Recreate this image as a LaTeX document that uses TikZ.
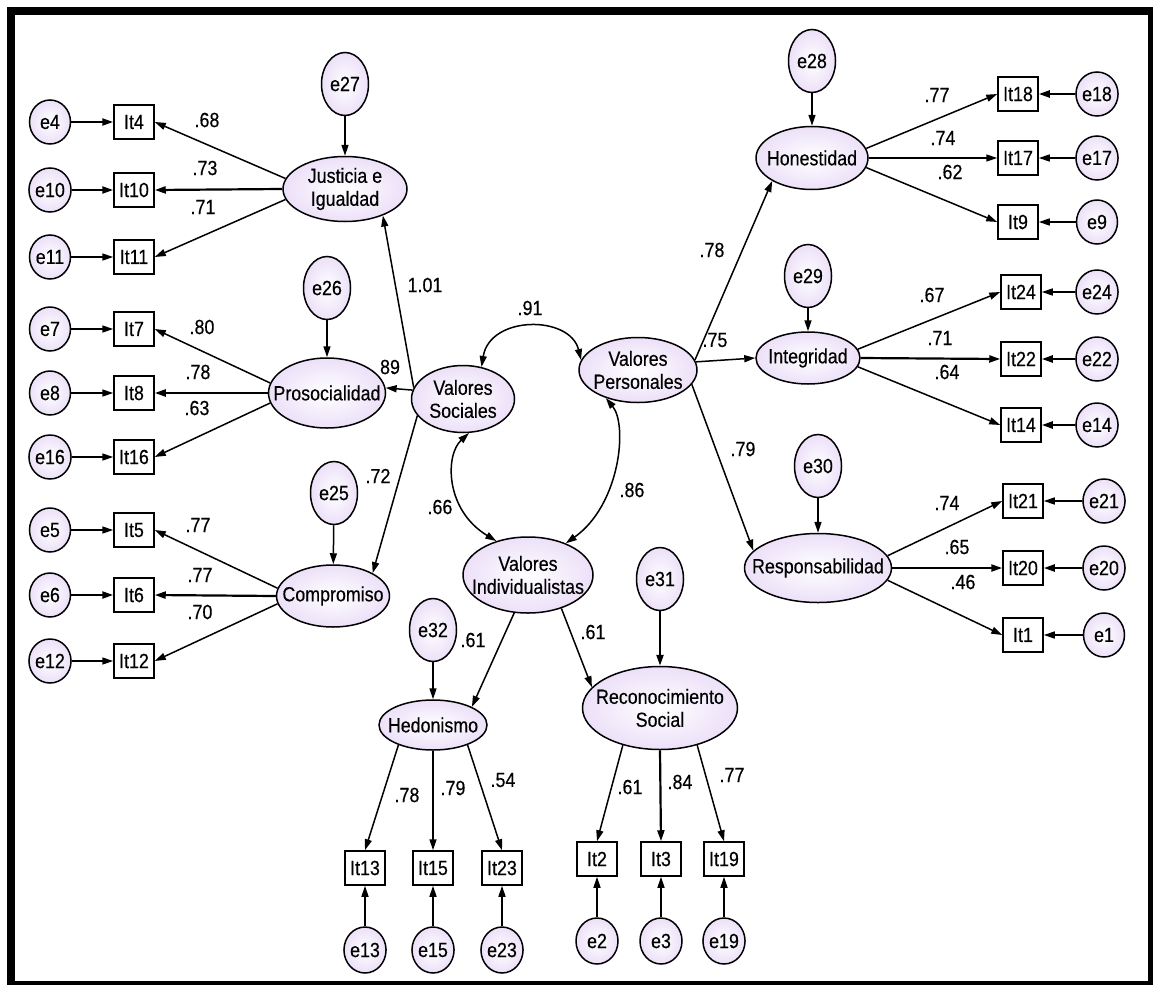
\documentclass[tikz,border=0pt]{standalone}
\usepackage{fontspec}
\setmainfont{Liberation Sans}[FakeStretch=0.87,FakeBold=0.35]
\usetikzlibrary{shapes.geometric,arrows.meta}
\definecolor{lavedge}{RGB}{236,224,248}
\begin{document}
\begin{tikzpicture}[x=1pt,y=-1pt,font=\fontsize{20.5}{23}\selectfont,
  err/.style={ellipse,draw,line width=1.5pt,inner color=white,outer color=lavedge,minimum width=41,minimum height=44,inner sep=0pt},
  res/.style={err,minimum width=47,minimum height=63},
  lat/.style={ellipse,draw,line width=1.5pt,inner color=white,outer color=lavedge,inner sep=0pt},
  item/.style={rectangle,draw,line width=1.5pt,fill=white,minimum width=40,minimum height=34,inner sep=0pt},
  ln/.style={-{Triangle[length=11pt,width=7pt]},line width=1.5pt},
  lnb/.style={ln,line width=2.2pt},
  cv/.style={{Triangle[length=11pt,width=7pt]}-{Triangle[length=11pt,width=7pt]},line width=1.5pt},
  lb/.style={inner sep=0pt}]
\useasboundingbox (0,0) rectangle (1153,985);
\fill[black] (7,7) rectangle (1153,985);
\fill[white] (15,15) rectangle (1148,981);

% ---- left block
\node[lat,minimum width=124,minimum height=65,label={[align=center]center:Justicia e\\Igualdad}] (J) at (345,189) {};
\node[res] (e27) at (345,84) {e27};
\node[lat,minimum width=117,minimum height=70,label={center:Prosocialidad}] (P) at (327,393) {};
\node[res] (e26) at (327,288) {e26};
\node[lat,minimum width=113,minimum height=62,label={center:Compromiso}] (C) at (333,596) {};
\node[res] (e25) at (334,493) {e25};

\foreach \n/\y in {4/122,10/190,11/257,7/329,8/393,16/457,5/530,6/595,12/661}{
  \node[item] (It\n) at (134,\y) {It\n};
  \node[err] (e\n) at (50,\y) {e\n};
}

% ---- centre
\node[lat,minimum width=103,minimum height=67,label={[align=center]center:Valores\\Sociales}] (VS) at (463,399) {};
\node[lat,minimum width=118,minimum height=65,label={[align=center]center:Valores\\Personales}] (VP) at (638,370) {};
\node[lat,minimum width=130,minimum height=76,label={[align=center]center:Valores\\Individualistas}] (VI) at (528,575) {};
\node[res] (e32) at (433,630) {e32};
\node[lat,minimum width=108,minimum height=50,label={center:Hedonismo}] (H) at (433,725) {};
\node[res] (e31) at (660,579) {e31};
\node[lat,minimum width=155,minimum height=83,label={[align=center]center:Reconocimiento\\Social}] (RS) at (660,708) {};

\foreach \n/\x in {13/365,15/433,23/502}{
  \node[item] (It\n) at (\x,868) {It\n};
  \node[err,minimum width=42,minimum height=46] (e\n) at (\x,950) {e\n};
}
\foreach \n/\x in {2/597,3/661,19/724}{
  \node[item] (It\n) at (\x,859) {It\n};
  \node[err,minimum width=42,minimum height=46] (e\n) at (\x,941) {e\n};
}

% ---- right block
\node[lat,minimum width=112,minimum height=63,label={center:Honestidad}] (Ho) at (812,158) {};
\node[res] (e28) at (812,61) {e28};
\node[lat,minimum width=104,minimum height=52,label={center:Integridad}] (In) at (808,358) {};
\node[res] (e29) at (808,276) {e29};
\node[lat,minimum width=147,minimum height=69,label={center:Responsabilidad}] (Re) at (818,568) {};
\node[res] (e30) at (818,466) {e30};

\foreach \n/\y in {18/94,17/158,9/222}{
  \node[item] (It\n) at (1018,\y) {It\n};
  \node[err] (e\n) at (1097,\y) {e\n};
}
\foreach \n/\y in {24/292,22/359,14/425}{
  \node[item] (It\n) at (1021,\y) {It\n};
  \node[err] (e\n) at (1097,\y) {e\n};
}
\foreach \n/\y in {21/501,20/568,1/635}{
  \node[item] (It\n) at (1023,\y) {It\n};
  \node[err] (e\n) at (1104,\y) {e\n};
}

% ---- error arrows
\draw[lnb] (e4) -- (It4);
\draw[lnb] (e10) -- (It10);
\draw[ln] (e11) -- (It11);
\draw[ln] (e7) -- (It7);
\draw[ln] (e8) -- (It8);
\draw[ln] (e16) -- (It16);
\draw[ln] (e5) -- (It5);
\draw[lnb] (e6) -- (It6);
\draw[ln] (e12) -- (It12);
\foreach \n in {13,15,23,2,3,19}{ \draw[ln] (e\n) -- (It\n); }
\draw[lnb] (e18) -- (It18);
\draw[ln] (e17) -- (It17);
\draw[ln] (e9) -- (It9);
\draw[ln] (e24) -- (It24);
\draw[lnb] (e22) -- (It22);
\draw[lnb] (e14) -- (It14);
\draw[ln] (e21) -- (It21);
\draw[lnb] (e20) -- (It20);
\draw[ln] (e1) -- (It1);
\draw[ln] (e27) -- (J);
\draw[ln] (e26) -- (P);
\draw[ln] (e25) -- (C);
\draw[ln] (e32) -- (H);
\draw[lnb] (e31) -- (RS);
\draw[ln] (e28) -- (Ho);
\draw[ln] (e29) -- (In);
\draw[ln] (e30) -- (Re);

% ---- loadings
\draw[ln] (J.170) -- (It4.east);
\draw[lnb] (J.180) -- (It10.east);
\draw[ln] (J.190) -- (It11.east);
\draw[ln] (P.170) -- (It7.east);
\draw[lnb] (P.180) -- (It8.east);
\draw[ln] (P.190) -- (It16.east);
\draw[ln] (C.172) -- (It5.east);
\draw[lnb] (C.180) -- (It6.east);
\draw[ln] (C.188) -- (It12.east);
\draw[ln] (H.210) -- (It13.north);
\draw[ln] (H.south) -- (It15.north);
\draw[ln] (H.-30) -- (It23.north);
\draw[ln] (RS.225) -- (It2.north);
\draw[lnb] (RS.south) -- (It3.north);
\draw[ln] (RS.-45) -- (It19.north);
\draw[ln] (Ho.10) -- (It18.west);
\draw[ln] (Ho.0) -- (It17.west);
\draw[ln] (Ho.-10) -- (It9.west);
\draw[ln] (In.10) -- (It24.west);
\draw[lnb] (In.0) -- (It22.west);
\draw[ln] (In.-10) -- (It14.west);
\draw[ln] (Re.10) -- (It21.west);
\draw[lnb] (Re.0) -- (It20.west);
\draw[ln] (Re.-10) -- (It1.west);

% ---- second order
\draw[ln] (VS.167) -- (J.-35);
\draw[ln] (VS.170) -- (P.5);
\draw[ln] (VS.200) -- (C.30);
\draw[ln] (VP.10) -- (Ho.210);
\draw[ln] (VP.8) -- (In.west);
\draw[ln] (VP.-15) -- (Re.165);
\draw[ln] (VI.250) -- (H.25);
\draw[ln] (VI.-45) -- (RS.163);

% ---- covariances
\draw[cv] (VS.60) .. controls (490,315) and (570,315) .. (VP.170);
\draw[cv] (VS.-80) .. controls (445,455) and (445,510) .. (VI.133);
\draw[cv] (VP.221) .. controls (628,425) and (620,505) .. (VI.40);

% ---- labels
\node[lb] (l1) at (207,120) {.68};
\node[lb] (l2) at (205,168) {.73};
\node[lb] (l3) at (203,207) {.71};
\node[lb] (l4) at (202,327) {.80};
\node[lb] (l5) at (198,372) {.78};
\node[lb] (l6) at (197,408) {.63};
\node[lb] (l7) at (198,525) {.77};
\node[lb] (l8) at (200,575) {.77};
\node[lb] (l9) at (200,612) {.70};
\node[lb] (l10) at (425,285) {1.01};
\node[lb] (l89) at (390,367) {89};
\node[lb] (l11) at (378,476) {.72};
\node[lb] (l12) at (530,308) {.91};
\node[lb] (l13) at (440,507) {.66};
\node[lb] (l14) at (632,490) {.86};
\node[lb] (l15) at (712,250) {.78};
\node[lb] (l16) at (715,340) {.75};
\node[lb] (l17) at (743,449) {.79};
\node[lb] (l18) at (473,640) {.61};
\node[lb] (l19) at (593,632) {.61};
\node[lb] (l20) at (407,795) {.78};
\node[lb] (l21) at (453,788) {.79};
\node[lb] (l22) at (503,780) {.54};
\node[lb] (l23) at (630,787) {.61};
\node[lb] (l24) at (680,782) {.84};
\node[lb] (l25) at (732,775) {.77};
\node[lb] (l26) at (937,95) {.77};
\node[lb] (l27) at (943,138) {.74};
\node[lb] (l28) at (950,172) {.62};
\node[lb] (l29) at (932,295) {.67};
\node[lb] (l30) at (940,338) {.71};
\node[lb] (l31) at (947,372) {.64};
\node[lb] (l32) at (947,503) {.74};
\node[lb] (l33) at (957,547) {.65};
\node[lb] (l34) at (963,582) {.46};
\end{tikzpicture}
\end{document}
